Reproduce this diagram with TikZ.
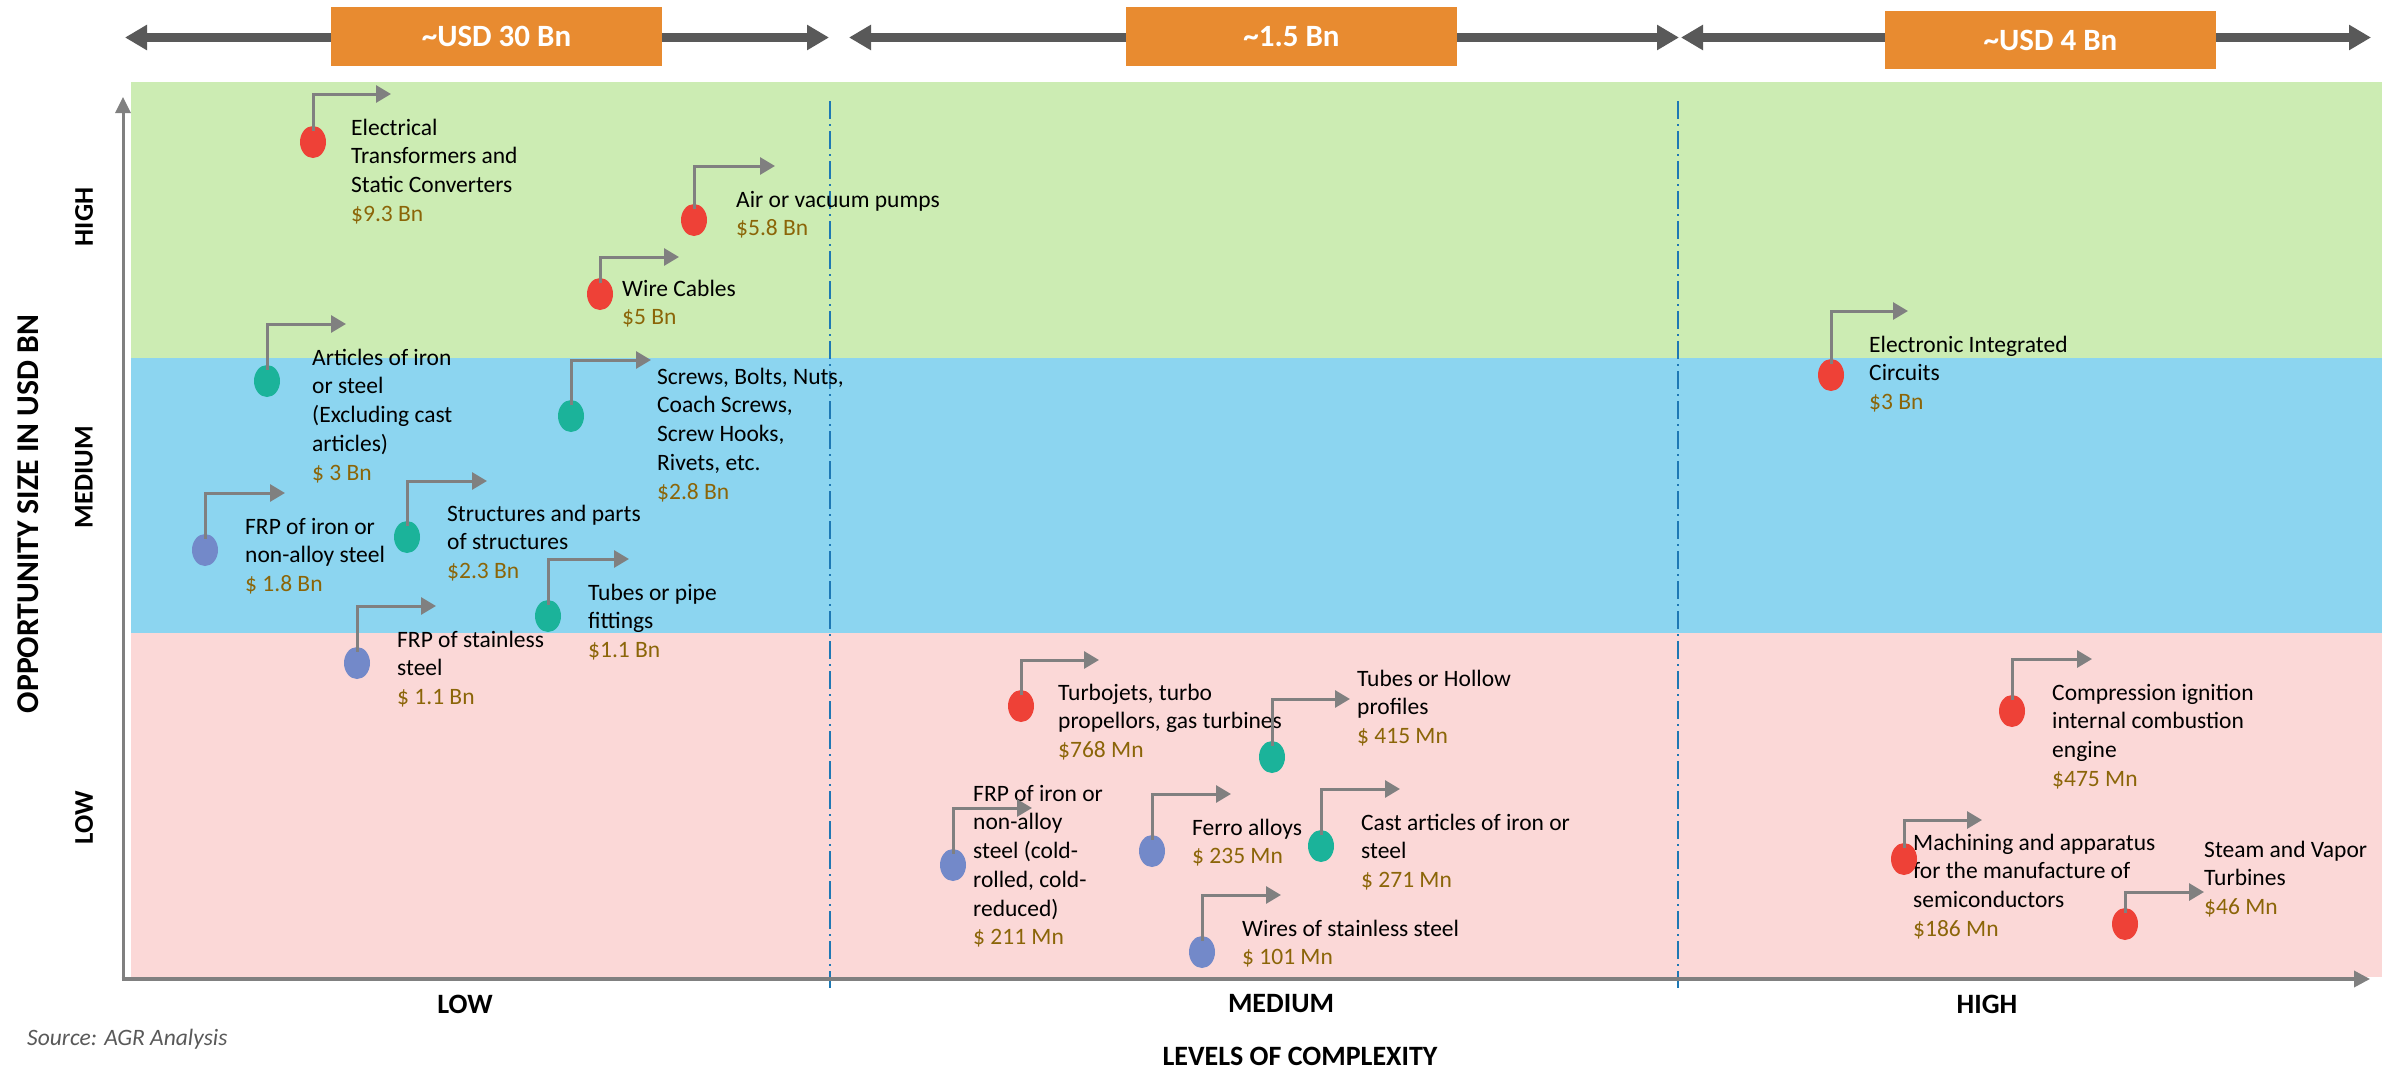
\documentclass[tikz,border=0pt]{standalone}
\usepackage{fontspec}
\setmainfont{Carlito}
\usetikzlibrary{arrows.meta,shapes.geometric}
\definecolor{bandgreen}{RGB}{204,236,179}
\definecolor{bandblue}{RGB}{140,213,240}
\definecolor{bandpink}{RGB}{251,216,215}
\definecolor{dotred}{RGB}{238,65,55}
\definecolor{dotteal}{RGB}{27,179,154}
\definecolor{dotblue}{RGB}{115,137,201}
\definecolor{valc}{RGB}{139,101,8}
\definecolor{conngray}{RGB}{128,128,128}
\definecolor{arrgray}{RGB}{89,89,89}
\definecolor{orangebox}{RGB}{232,139,48}
\definecolor{dashblue}{RGB}{30,120,180}
\definecolor{srcgray}{RGB}{89,89,89}
\newcommand{\plotitem}[8]{%
  \node[itemlbl,anchor=north west] (#1-l) at (#6) {\rule{0pt}{20pt}#7\\\textcolor{valc}{#8}};
  \node[dotnode,fill=#2] (#1) at (#3) {};
  \coordinate (#1-t) at (#5,#4);
  \draw[conn] ([yshift=-5pt]#1.north) |- (#1-t);
}
\begin{document}
\begin{tikzpicture}[x=1pt,y=-1pt,
  dotnode/.style={ellipse,draw=none,minimum width=26pt,minimum height=32pt,inner sep=0pt},
  itemlbl/.style={inner sep=0pt,align=left,font=\fontsize{23.5}{28.7}\selectfont},
  conn/.style={draw=conngray,line width=3pt,-{Triangle[length=15pt,width=17pt]}},
  toparrow/.style={draw=arrgray,line width=9pt,{Triangle[length=22pt,width=24pt]}-{Triangle[length=22pt,width=24pt]}},
  topbox/.style={fill=orangebox,text=white,minimum width=331pt,minimum height=59pt,inner sep=0pt,font=\fontsize{31}{36}\selectfont\bfseries},
  axisline/.style={draw=conngray,line width=3pt},
  sidelbl/.style={rotate=90,font=\fontsize{27}{32}\selectfont\bfseries,inner sep=0pt},
  xlbl/.style={font=\fontsize{28}{33}\selectfont\bfseries,inner sep=0pt},
  dashdiv/.style={draw=dashblue,line width=1.6pt,dash pattern=on 18pt off 5pt on 2pt off 5pt}
]
\useasboundingbox[fill=white] (0,0) rectangle (2400,1068);
% bands
\fill[bandgreen] (131,82) rectangle (2382,358);
\fill[bandblue] (131,358) rectangle (2382,633);
\fill[bandpink] (131,633) rectangle (2382,977);
% top arrows
\coordinate (a1l) at (125,37.5); \coordinate (a1r) at (829,37.5);
\coordinate (a2l) at (849,37.5); \coordinate (a2r) at (1679,37.5);
\coordinate (a3l) at (1681,37.5); \coordinate (a3r) at (2371,37.5);
\draw[toparrow] (a1l) -- (a1r);
\draw[toparrow] (a2l) -- (a2r);
\draw[toparrow] (a3l) -- (a3r);
\node[topbox] (box1) at (496.5,36.5) {\textasciitilde USD 30 Bn};
\node[topbox] (box2) at (1291.5,36.5) {\textasciitilde 1.5 Bn};
\node[topbox,minimum height=58pt] (box3) at (2050.5,40) {\textasciitilde USD 4 Bn};
% divider lines
\coordinate (d1t) at (830,101); \coordinate (d1b) at (830,988);
\coordinate (d2t) at (1678,101); \coordinate (d2b) at (1678,988);
\draw[dashdiv] (d1t) -- (d1b);
\draw[dashdiv] (d2t) -- (d2b);
% axes
\coordinate (org) at (123,979);
\coordinate (ytop) at (123,97);
\coordinate (xend) at (2370,979);
\draw[axisline,-{Triangle[length=16pt,width=15pt]}] (org) -- (ytop);
\draw[axisline,line width=3.5pt,-{Triangle[length=16pt,width=16pt]}] ([xshift=-1.5pt]org) -- (xend);
% axis labels
\node[rotate=90,font=\fontsize{31.7}{36}\selectfont\bfseries,inner sep=0pt] (ytitle) at (28.5,514) {OPPORTUNITY SIZE IN USD BN};
\node[sidelbl] (yhigh) at (84,217) {HIGH};
\node[sidelbl] (ymed) at (84,477) {MEDIUM};
\node[sidelbl] (ylow) at (84,818) {LOW};
\node[xlbl] (xlow) at (465,1004) {LOW};
\node[xlbl] (xmed) at (1281,1004) {MEDIUM};
\node[xlbl] (xhigh) at (1987,1004) {HIGH};
\node[xlbl] (xtitle) at (1300,1056) {LEVELS OF COMPLEXITY};
\node[anchor=base west,inner sep=0pt,text=srcgray,font=\fontsize{23.5}{28}\selectfont\itshape] (src) at (27,1045) {Source: AGR Analysis};
% items
\plotitem{elec}{dotred}{313,142}{94}{391}{351,115}{Electrical\\Transformers and\\Static Converters}{\$9.3 Bn}
\plotitem{air}{dotred}{694,220}{166}{775}{736,187}{Air or vacuum pumps}{\$5.8 Bn}
\plotitem{wire}{dotred}{600,294}{257}{679}{622,276}{Wire Cables}{\$5 Bn}
\plotitem{art}{dotteal}{267,381}{324}{346}{312,345}{Articles of iron\\or steel\\(Excluding cast\\articles)}{\$ 3 Bn}
\plotitem{screw}{dotteal}{571,416}{360}{651}{657,364}{Screws, Bolts, Nuts,\\Coach Screws,\\Screw Hooks,\\Rivets, etc.}{\$2.8 Bn}
\plotitem{frpa}{dotblue}{205,550}{493}{285}{245,514}{FRP of iron or\\non-alloy steel}{\$ 1.8 Bn}
\plotitem{struct}{dotteal}{407,537}{481}{487}{447,501}{Structures and parts\\of structures}{\$2.3 Bn}
\plotitem{tubep}{dotteal}{548,616}{559}{629}{588,580}{Tubes or pipe\\fittings}{\$1.1 Bn}
\plotitem{frps}{dotblue}{357,663}{606}{436}{397,627}{FRP of stainless\\steel}{\$ 1.1 Bn}
\plotitem{turbo}{dotred}{1021,706}{660}{1099}{1058,680}{Turbojets, turbo\\propellors, gas turbines}{\$768 Mn}
\plotitem{tubeh}{dotteal}{1272,757}{699}{1350}{1357,666}{Tubes or Hollow\\profiles}{\$ 415 Mn}
\plotitem{frpc}{dotblue}{953,865}{808}{1032}{973,781}{FRP of iron or\\non-alloy\\steel (cold-\\rolled, cold-\\reduced)}{\$ 211 Mn}
\plotitem{ferro}{dotblue}{1152,851}{794}{1231}{1192,815}{Ferro alloys}{\$ 235 Mn}
\plotitem{cast}{dotteal}{1321,846}{789}{1400}{1361,810}{Cast articles of iron or\\steel}{\$ 271 Mn}
\plotitem{wires}{dotblue}{1202,952}{895}{1281}{1242,916}{Wires of stainless steel}{\$ 101 Mn}
\plotitem{eic}{dotred}{1831,375}{311}{1908}{1869,332}{Electronic Integrated\\Circuits}{\$3 Bn}
\plotitem{comp}{dotred}{2012,711}{659}{2092}{2052,680}{Compression ignition\\internal combustion\\engine}{\$475 Mn}
\plotitem{mach}{dotred}{1904,859}{820}{1982}{1913,830}{Machining and apparatus\\for the manufacture of\\semiconductors}{\$186 Mn}
\plotitem{steam}{dotred}{2125,924}{892}{2204}{2204,837}{Steam and Vapor\\Turbines}{\$46 Mn}
\end{tikzpicture}
\end{document}
